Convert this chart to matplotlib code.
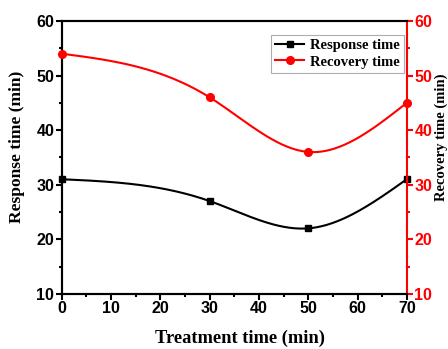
import numpy as np
import matplotlib.pyplot as plt
from matplotlib.ticker import MultipleLocator

# data
treatment = [0, 30, 50, 70]
response = [31, 27, 22, 31]
recovery = [54, 46, 36, 45]


def smooth(x, y, n=200):
    # natural cubic spline through the measured points (drawing only)
    x = np.asarray(x, float)
    y = np.asarray(y, float)
    k = len(x)
    h = np.diff(x)
    A = np.zeros((k, k))
    b = np.zeros(k)
    A[0, 0] = A[-1, -1] = 1
    for i in range(1, k - 1):
        A[i, i - 1] = h[i - 1]
        A[i, i] = 2 * (h[i - 1] + h[i])
        A[i, i + 1] = h[i]
        b[i] = 6 * ((y[i + 1] - y[i]) / h[i] - (y[i] - y[i - 1]) / h[i - 1])
    M = np.linalg.solve(A, b)
    xs = np.linspace(x[0], x[-1], n)
    ys = np.empty_like(xs)
    for j, t in enumerate(xs):
        i = min(np.searchsorted(x, t, side='right') - 1, k - 2)
        a, c = x[i], x[i + 1]
        ys[j] = (M[i] * (c - t) ** 3 / (6 * h[i]) + M[i + 1] * (t - a) ** 3 / (6 * h[i])
                 + (y[i] / h[i] - M[i] * h[i] / 6) * (c - t)
                 + (y[i + 1] / h[i] - M[i + 1] * h[i] / 6) * (t - a))
    return xs, ys


tick_font = {'family': 'Liberation Sans', 'weight': 'bold', 'size': 11.5}
label_font = {'family': 'Liberation Serif', 'weight': 'bold', 'size': 12.5}

fig = plt.figure(figsize=(4.48, 3.49), dpi=100)
ax = fig.add_axes([0.138, 0.158, 0.77, 0.782])
ax2 = ax.twinx()

xs, ys = smooth(treatment, response)
ax.plot(xs, ys, color='black', lw=1.5)
ax.plot(treatment, response, 's', color='black', ms=5, clip_on=False, zorder=5)
l1, = ax.plot([], [], '-s', color='black', ms=5, lw=1.5, label='Response time')

xs, ys = smooth(treatment, recovery)
ax2.plot(xs, ys, color='red', lw=1.5)
ax2.plot(treatment, recovery, 'o', color='red', ms=5.5, clip_on=False, zorder=5)
l2, = ax2.plot([], [], '-o', color='red', ms=5.5, lw=1.5, label='Recovery time')

ax.set_xlim(0, 70)
ax.set_ylim(10, 60)
ax2.set_ylim(10, 60)

ax.xaxis.set_major_locator(MultipleLocator(10))
ax.xaxis.set_minor_locator(MultipleLocator(5))
ax.yaxis.set_major_locator(MultipleLocator(10))
ax.yaxis.set_minor_locator(MultipleLocator(5))
ax2.yaxis.set_major_locator(MultipleLocator(10))
ax2.yaxis.set_minor_locator(MultipleLocator(5))

for a in (ax, ax2):
    for s in a.spines.values():
        s.set_linewidth(1.5)
ax2.spines['right'].set_color('red')
ax.spines['right'].set_visible(False)

ax.tick_params(which='major', direction='out', length=4, width=1.5, pad=1.5)
ax.tick_params(which='minor', direction='out', length=2.5, width=1.5)
ax.tick_params(top=False, which='both')
ax2.tick_params(which='major', direction='out', length=4, width=1.5, colors='red', pad=1.5)
ax2.tick_params(which='minor', direction='out', length=2.5, width=1.5, colors='red')

for t in ax.get_xticklabels() + ax.get_yticklabels():
    t.set_fontproperties(tick_font)
for t in ax2.get_yticklabels():
    t.set_fontproperties(tick_font)
    t.set_color('red')

ax.set_xlabel('Treatment time (min)', fontdict=dict(label_font, size=13.3))
ax.xaxis.set_label_coords(0.516, -0.13)
ax.set_ylabel('Response time (min)', fontdict=label_font)
ax.yaxis.set_label_coords(-0.107, 0.538)
ax2.set_ylabel('Recovery time (min)', fontdict=dict(label_font, size=10.5))
ax2.yaxis.set_label_coords(1.081, 0.575)

leg = ax.legend(handles=[l1, l2], loc='upper right', bbox_to_anchor=(0.991, 0.949),
                borderaxespad=0,
                prop={'family': 'Liberation Serif', 'weight': 'bold', 'size': 10.5},
                frameon=True, fancybox=False, edgecolor='#999999',
                handlelength=2.0, handletextpad=0.35, borderpad=0.3, labelspacing=0.2)
leg.get_frame().set_linewidth(0.8)

fig.savefig('out.png', dpi=100)
